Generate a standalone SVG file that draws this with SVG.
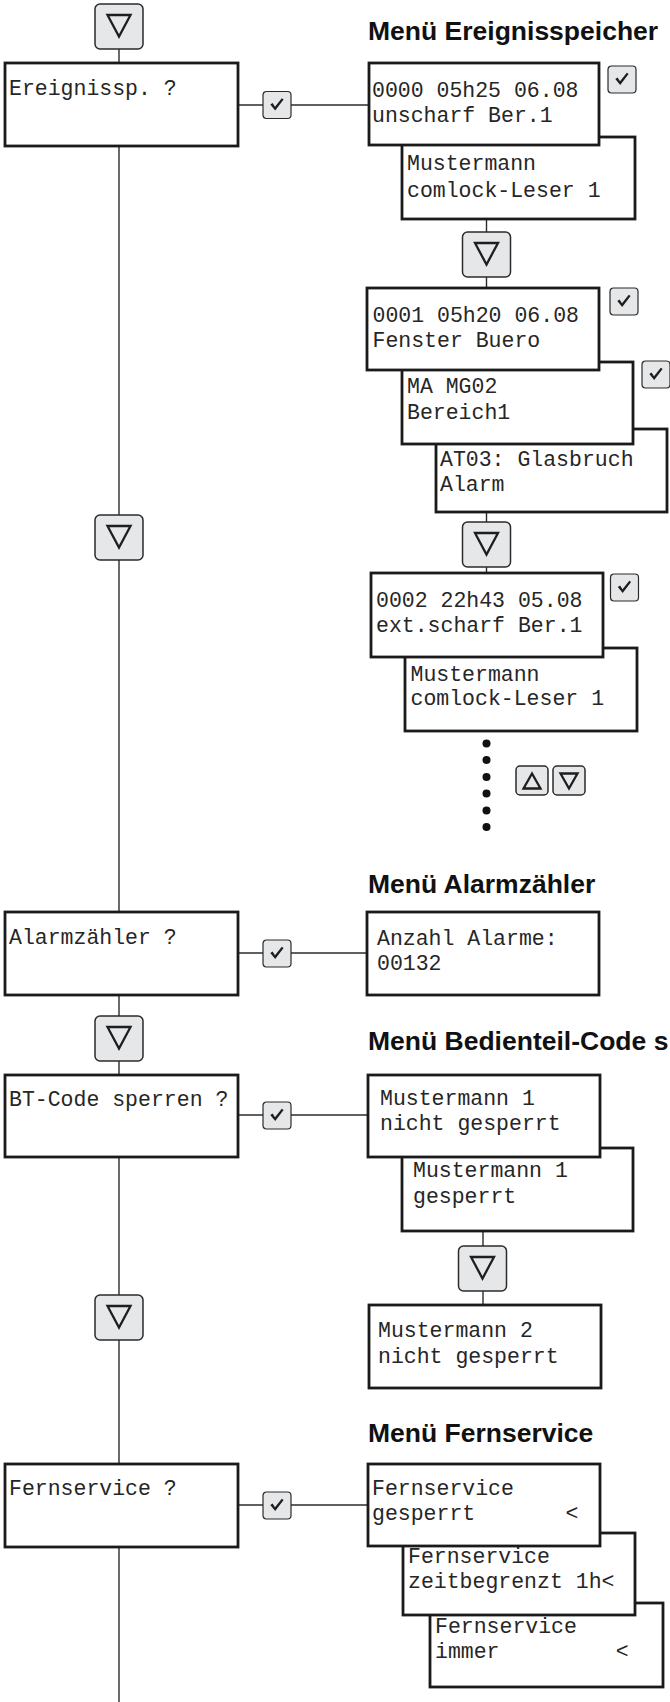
<svg xmlns="http://www.w3.org/2000/svg" xmlns:xlink="http://www.w3.org/1999/xlink" width="670" height="1702" viewBox="0 0 670 1702">
<style>
.box{fill:#fff;stroke:#1a1a1a;stroke-width:2.8}
.btn{fill:#e6e7e8;stroke:#2b2b2b;stroke-width:1.5}
.tri{fill:none;stroke:#1e1e1e;stroke-width:2.3;stroke-linejoin:miter}
.ck{fill:#1e1e1e}
.con{stroke:#2b2b2b;stroke-width:1.4;fill:none}
.mono{font-family:"Liberation Mono","Courier New",monospace;font-size:21.5px;fill:#262626;white-space:pre}
.title{font-family:"Liberation Sans",Arial,sans-serif;font-weight:bold;font-size:26.5px;fill:#111}
</style>
<defs>
<g id="down">
<rect class="btn" x="0" y="0" width="48" height="45" rx="5"/>
<polygon class="tri" points="12.5,11 35.5,11 24,32.5"/>
</g>
<g id="chk">
<rect class="btn" x="0" y="0" width="28" height="27" rx="3.5" style="stroke-width:1.2"/>
<path class="ck" d="M7.3,13 L9.6,11.6 L12,15.2 L18.8,6.8 L20.6,8 L12.2,19 Z"/>
</g>
<g id="sdown">
<rect class="btn" x="0" y="0" width="32" height="29" rx="4"/>
<polygon class="tri" points="7.5,7.5 24.5,7.5 16,22.5"/>
</g>
<g id="sup">
<rect class="btn" x="0" y="0" width="32" height="29" rx="4"/>
<polygon class="tri" points="7.5,22.5 24.5,22.5 16,7.5"/>
</g>
</defs>

<g id="connectors">
<line class="con" x1="119" y1="48" x2="119" y2="1702"/>
<line class="con" x1="238" y1="105" x2="369" y2="105"/>
<line class="con" x1="238" y1="953" x2="367" y2="953"/>
<line class="con" x1="238" y1="1115" x2="368" y2="1115"/>
<line class="con" x1="238" y1="1505" x2="368" y2="1505"/>
<line class="con" x1="486.5" y1="219" x2="486.5" y2="288"/>
<line class="con" x1="486.5" y1="512" x2="486.5" y2="573"/>
<line class="con" x1="483" y1="1231" x2="483" y2="1305"/>
</g>

<g id="left-btn-1"><use xlink:href="#down" x="95" y="4"/></g>
<g id="left-box-ereignis"><rect class="box" x="5" y="63" width="233" height="83"/><text class="mono" x="9" y="95">Ereignissp. ?</text></g>
<g id="left-chk-1"><use xlink:href="#chk" x="263" y="91.5"/></g>
<g id="left-btn-2"><use xlink:href="#down" x="95" y="515"/></g>
<g id="left-box-alarm"><rect class="box" x="5" y="912" width="233" height="83"/><text class="mono" x="9" y="944">Alarmzähler ?</text></g>
<g id="left-chk-2"><use xlink:href="#chk" x="263" y="940"/></g>
<g id="left-btn-3"><use xlink:href="#down" x="95" y="1016"/></g>
<g id="left-box-bt"><rect class="box" x="5" y="1075" width="233" height="82"/><text class="mono" x="9" y="1106">BT-Code sperren ?</text></g>
<g id="left-chk-3"><use xlink:href="#chk" x="263" y="1102"/></g>
<g id="left-btn-4"><use xlink:href="#down" x="95" y="1295"/></g>
<g id="left-box-fern"><rect class="box" x="5" y="1464" width="233" height="83"/><text class="mono" x="9" y="1495">Fernservice ?</text></g>
<g id="left-chk-4"><use xlink:href="#chk" x="263" y="1492"/></g>

<g id="title-ereignis"><text class="title" x="368" y="40">Menü Ereignisspeicher</text></g>
<g id="ev0b"><rect class="box" x="402" y="137" width="233" height="82"/><text class="mono" x="407" y="170">Mustermann</text><text class="mono" x="407" y="196.5">comlock-Leser 1</text></g>
<g id="ev0"><rect class="box" x="369" y="63" width="230" height="82"/><text class="mono" x="372" y="96.5">0000 05h25 06.08</text><text class="mono" x="372" y="121.5">unscharf Ber.1</text></g>
<g id="ev0-chk"><use xlink:href="#chk" x="608" y="66"/></g>
<g id="ev-btn-1"><use xlink:href="#down" x="462.5" y="232"/></g>
<g id="ev1c"><rect class="box" x="436" y="429" width="231" height="83"/><text class="mono" x="440" y="465.5">AT03: Glasbruch</text><text class="mono" x="440" y="490.5">Alarm</text></g>
<g id="ev1b"><rect class="box" x="402" y="362" width="231" height="82"/><text class="mono" x="407" y="393">MA MG02</text><text class="mono" x="407" y="419">Bereich1</text></g>
<g id="ev1"><rect class="box" x="367" y="288" width="232" height="82"/><text class="mono" x="372.5" y="321.5">0001 05h20 06.08</text><text class="mono" x="372.5" y="346.5">Fenster Buero</text></g>
<g id="ev1-chk"><use xlink:href="#chk" x="610" y="288"/></g>
<g id="ev1b-chk"><use xlink:href="#chk" x="642" y="361"/></g>
<g id="ev-btn-2"><use xlink:href="#down" x="462.5" y="522"/></g>
<g id="ev2b"><rect class="box" x="405" y="648" width="232" height="83"/><text class="mono" x="410.5" y="680.5">Mustermann</text><text class="mono" x="410.5" y="705">comlock-Leser 1</text></g>
<g id="ev2"><rect class="box" x="371" y="573" width="232" height="84"/><text class="mono" x="376" y="606.5">0002 22h43 05.08</text><text class="mono" x="376" y="631.5">ext.scharf Ber.1</text></g>
<g id="ev2-chk"><use xlink:href="#chk" x="610.5" y="574"/></g>
<g id="ev-dots" fill="#111"><circle cx="486.5" cy="743.5" r="4"/><circle cx="486.5" cy="760" r="4"/><circle cx="486.5" cy="777" r="4"/><circle cx="486.5" cy="793.5" r="4"/><circle cx="486.5" cy="810.5" r="4"/><circle cx="486.5" cy="827" r="4"/></g>
<g id="ev-updown"><use xlink:href="#sup" x="516" y="766"/><use xlink:href="#sdown" x="553" y="766"/></g>

<g id="title-alarm"><text class="title" x="368" y="893">Menü Alarmzähler</text></g>
<g id="alarm-box"><rect class="box" x="367" y="912" width="232" height="83"/><text class="mono" x="377" y="945">Anzahl Alarme:</text><text class="mono" x="377" y="970">00132</text></g>

<g id="title-bt"><text class="title" x="368" y="1050">Menü Bedienteil-Code s</text></g>
<g id="bt1b"><rect class="box" x="402" y="1148" width="231" height="83"/><text class="mono" x="413" y="1177">Mustermann 1</text><text class="mono" x="413" y="1203">gesperrt</text></g>
<g id="bt1"><rect class="box" x="368" y="1075" width="232" height="82"/><text class="mono" x="380" y="1105">Mustermann 1</text><text class="mono" x="380" y="1130">nicht gesperrt</text></g>
<g id="bt-btn"><use xlink:href="#down" x="458.5" y="1246"/></g>
<g id="bt2"><rect class="box" x="369" y="1305" width="232" height="83"/><text class="mono" x="378" y="1337">Mustermann 2</text><text class="mono" x="378" y="1363">nicht gesperrt</text></g>

<g id="title-fern"><text class="title" x="368" y="1442">Menü Fernservice</text></g>
<g id="fs3"><rect class="box" x="430" y="1603" width="233" height="84"/><text class="mono" x="435" y="1633">Fernservice</text><text class="mono" x="435" y="1658">immer         &lt;</text></g>
<g id="fs2"><rect class="box" x="403" y="1533" width="232" height="82"/><text class="mono" x="408" y="1563">Fernservice</text><text class="mono" x="408" y="1588">zeitbegrenzt 1h&lt;</text></g>
<g id="fs1"><rect class="box" x="368" y="1464" width="232" height="82"/><text class="mono" x="372" y="1495">Fernservice</text><text class="mono" x="372" y="1520">gesperrt       &lt;</text></g>
</svg>
